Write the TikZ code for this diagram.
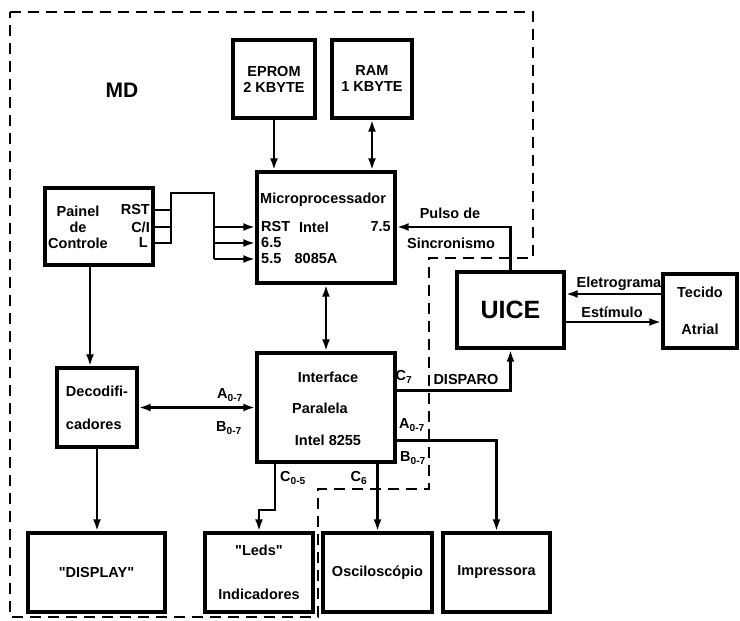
\documentclass[tikz,border=0pt]{standalone}
\usepackage{fontspec}
\setmainfont{Liberation Sans}
\usetikzlibrary{arrows.meta,positioning}

\begin{document}
\begin{tikzpicture}[x=1pt, y=-1pt, font=\bfseries\fontsize{14.5}{16}\selectfont]
\tikzstyle{blk}=[draw, line width=3.4pt, inner sep=2pt, align=center]
\tikzstyle{lbl}=[inner sep=1pt]
\tikzstyle{wire}=[line width=2.4pt]
\tikzstyle{arr}=[wire, -{Latex[length=12pt,width=8pt]}]
\tikzstyle{darr}=[wire, {Latex[length=12pt,width=8pt]}-{Latex[length=12pt,width=8pt]}]
\useasboundingbox (0,0) rectangle (740,621);
% limite do MD
\draw[line width=2.8pt, dash pattern=on 11pt off 7pt] (10,12) -- (533,12) -- (533,258) -- (429,258) -- (429,489) -- (318,489) -- (318,617) -- (10,617) -- cycle;
\node (md) at (122,90) {\fontsize{21}{23}\selectfont MD};
% memorias
\node[blk, minimum width=82pt, minimum height=78pt] (eprom) at (274,79) {EPROM\\2 KBYTE};
\node[blk, minimum width=80pt, minimum height=78pt] (ram) at (372,79) {RAM\\1 KBYTE};
% microprocessador
\node[blk, minimum width=138pt, minimum height=111pt] (micro) at (326,227.5) {};
\node[lbl, anchor=west] (mtitle) at (259,200) {Microprocessador};
\node[lbl, anchor=west] (mrst) at (260,227) {RST};
\node[lbl] (mintel) at (314,227) {Intel};
\node[lbl, anchor=east] (m75) at (392,227) {7.5};
\node[lbl, anchor=west] (m65) at (260,243) {6.5};
\node[lbl, anchor=west] (m55) at (260,259) {5.5};
\node[lbl] (m8085) at (316,259) {8085A};
% painel
\node[blk, minimum width=108pt, minimum height=77pt] (painel) at (99,226.5) {};
\node[lbl, align=center] (ptxt) at (78,227) {Painel\\de\\Controle};
\node[lbl, anchor=east] (prst) at (151,210) {RST};
\node[lbl, anchor=east] (pci) at (151,227) {C/I};
\node[lbl, anchor=east] (pl) at (149,243) {L};
\coordinate (bj) at (171,193);
\coordinate (bs) at (214,193);
\draw[wire] (painel.east |- prst) -- (bj |- prst);
\draw[wire] (painel.east |- pci) -- (bj |- pci);
\draw[wire] (painel.east |- pl) -- (bj |- pl) -- (bj) -- (bs) -- (bs |- m55);
\foreach \t in {mrst,m65,m55}{\draw[arr] (bs |- \t) -- (micro.west |- \t);}
% interface
\node[blk, minimum width=138pt, minimum height=109pt] (intf) at (326,407.5) {};
\node[lbl] (itop) at (328,377) {Interface};
\node[lbl] (imid) at (320,408) {Paralela};
\node[lbl] (ibot) at (328,440) {Intel 8255};
% perifericos
\node[blk, minimum width=80pt, minimum height=79pt, align=left] (decod) at (97,407.5) {Decodifi-\\[17pt]cadores};
\node[blk, minimum width=137pt, minimum height=79pt] (disp) at (96.5,572.5) {\textquotedbl DISPLAY\textquotedbl};
\node[blk, minimum width=108pt, minimum height=79pt] (leds) at (259,572.5) {\textquotedbl Leds\textquotedbl\\[28pt]Indicadores};
\node[blk, minimum width=109pt, minimum height=79pt] (osc) at (377.5,572.5) {Osciloscópio};
\node[blk, minimum width=107pt, minimum height=79pt] (impr) at (496.5,572.5) {Impressora};
\node[blk, minimum width=107pt, minimum height=76pt, font=\bfseries\fontsize{25}{27}\selectfont] (uice) at (510.5,310) {UICE};
\node[blk, minimum width=74pt, minimum height=74pt] (tec) at (700,311) {Tecido\\[21pt]Atrial};
% ligacoes
\draw[arr] (eprom.south) -- (eprom.south |- micro.north);
\draw[darr] (ram.south) -- (ram.south |- micro.north);
\draw[darr] (micro.south) -- (intf.north);
\draw[arr] ([xshift=-9pt]painel.south) -- ([xshift=-9pt]painel.south |- decod.north);
\draw[arr] (decod.south) -- (decod.south |- disp.north);
\draw[darr] (decod.east) -- (intf.west);
\draw[arr] (uice.north) |- (micro.east |- m75);
\draw[arr] ([yshift=17pt]tec.west) -- ([yshift=17pt]tec.west -| uice.east);
\draw[arr] ([yshift=-12pt]uice.east) -- ([yshift=-12pt]uice.east -| tec.west);
\draw[arr] ([yshift=17pt]intf.east) -| (uice.south);
\draw[arr] ([yshift=-33pt]intf.east) -| (impr.north);
\draw[arr] (intf.south -| osc.north) -- (osc.north);
\draw[arr] ([xshift=-51pt]intf.south) -- ++(0,46) -| (leds.north);
% rotulos
\node[lbl] (la) at (230,395) {A\textsubscript{0-7}};
\node[lbl] (lb) at (229,428) {B\textsubscript{0-7}};
\node[lbl] (lc7) at (404,377) {C\textsubscript{7}};
\node[lbl] (ldisp) at (466,380) {DISPARO};
\node[lbl] (la2) at (412,425) {A\textsubscript{0-7}};
\node[lbl] (lb2) at (413,458) {B\textsubscript{0-7}};
\node[lbl] (lc05) at (293,478) {C\textsubscript{0-5}};
\node[lbl] (lc6) at (359,478) {C\textsubscript{6}};
\node[lbl] (lpulso) at (450,213) {Pulso de};
\node[lbl] (lsinc) at (451,243) {Sincronismo};
\node[lbl] (lelet) at (619,284) {Eletrograma};
\node[lbl] (lestim) at (612,312) {Estímulo};
\end{tikzpicture}
\end{document}
